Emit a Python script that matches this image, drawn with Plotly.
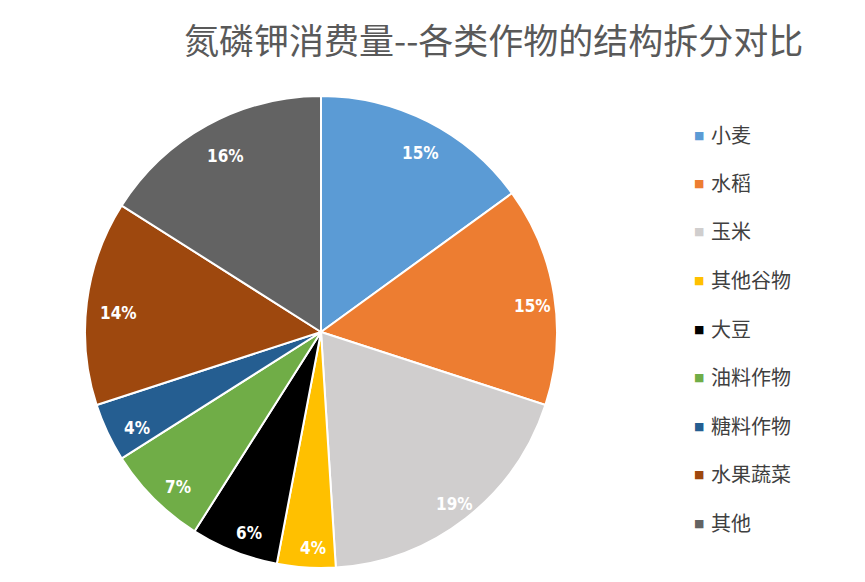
import math
import plotly.graph_objects as go

labels = ["小麦", "水稻", "玉米", "其他谷物", "大豆", "油料作物", "糖料作物", "水果蔬菜", "其他"]
values = [15, 15, 19, 4, 6, 7, 4, 14, 16]
colors = ["#5B9BD5", "#ED7D31", "#D0CECE", "#FFC000", "#000000",
          "#70AD47", "#255E91", "#9E480E", "#636363"]
title_text = "氮磷钾消费量--各类作物的结构拆分对比"

W, H = 865, 582
cx, cy, r = 313, 324, 236
lab_cx, lab_cy, lab_rho = 318, 331, 209

fig = go.Figure(go.Pie(
    labels=labels,
    values=values,
    sort=False,
    direction="clockwise",
    rotation=0,
    marker=dict(colors=colors, line=dict(color="white", width=2)),
    textinfo="none",
    showlegend=False,
    hoverinfo="label+percent",
    domain=dict(x=[(cx - r) / W, (cx + r) / W], y=[(H - cy - r) / H, (H - cy + r) / H]),
))

annotations = [dict(
    text=title_text, x=485 / W, y=1 - 30 / H, xref="paper", yref="paper",
    xanchor="center", yanchor="middle", showarrow=False,
    font=dict(family="Noto Sans CJK SC", size=35, color="#595959"),
)]

# percentage labels placed at slice mid-angles derived from values
total = sum(values)
cum = 0
for v in values:
    theta = 2 * math.pi * (cum + v / 2) / total
    cum += v
    px = lab_cx + lab_rho * math.sin(theta)
    py = lab_cy - lab_rho * math.cos(theta)
    annotations.append(dict(
        text=f"{round(100 * v / total)}%", x=px / W, y=1 - py / H,
        xref="paper", yref="paper", xanchor="center", yanchor="middle",
        showarrow=False,
        font=dict(family="Liberation Sans Narrow, DejaVu Sans Condensed, Liberation Sans",
                  size=17, color="white", weight="bold"),
    ))

dy = 48.5
for i, (lab, col) in enumerate(zip(labels, colors)):
    annotations.append(dict(
        text="■", x=691 / W, y=1 - (127 + i * dy) / H, xref="paper", yref="paper",
        xanchor="center", yanchor="middle", showarrow=False,
        font=dict(family="DejaVu Sans", size=11, color=col),
    ))
    annotations.append(dict(
        text=lab, x=701 / W, y=1 - (126 + i * dy) / H, xref="paper", yref="paper",
        xanchor="left", yanchor="middle", showarrow=False,
        font=dict(family="Noto Sans CJK SC", size=20, color="#404040"),
    ))

fig.update_layout(
    width=W, height=H,
    margin=dict(l=0, r=0, t=0, b=0),
    paper_bgcolor="white",
    plot_bgcolor="white",
    annotations=annotations,
)

fig.write_html("out.html")
